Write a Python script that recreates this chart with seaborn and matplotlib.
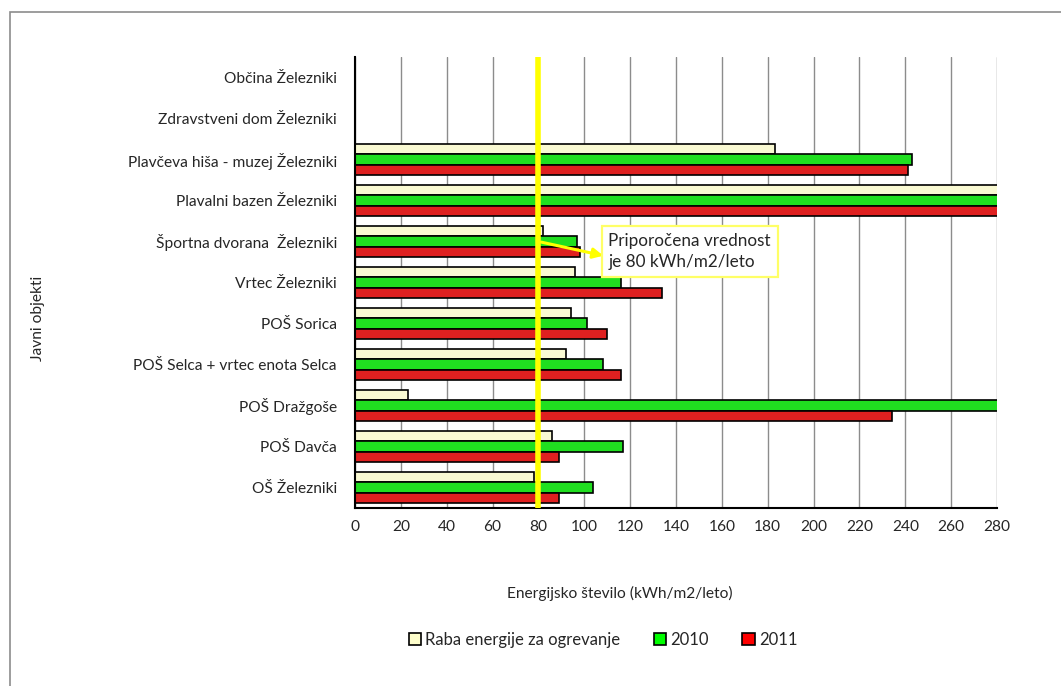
import matplotlib
matplotlib.use("Agg")
import matplotlib.pyplot as plt
import matplotlib.patches as mpatches
import numpy as np
import pandas as pd
import seaborn as sns

# ---- data ----
objekti = [
    "Občina Železniki",
    "Zdravstveni dom Železniki",
    "Plavčeva hiša - muzej Železniki",
    "Plavalni bazen Železniki",
    "Športna dvorana  Železniki",
    "Vrtec Železniki",
    "POŠ Sorica",
    "POŠ Selca + vrtec enota Selca",
    "POŠ Dražgoše",
    "POŠ Davča",
    "OŠ Železniki",
]
serije = ["Raba energije za ogrevanje", "2010", "2011"]
raba = [np.nan, np.nan, 183, 320, 82, 96, 94, 92, 23, 86, 78]
v2010 = [np.nan, np.nan, 243, 320, 97, 116, 101, 108, 320, 117, 104]
v2011 = [np.nan, np.nan, 241, 320, 98, 134, 110, 116, 234, 89, 89]
barve = ["#FFFFCC", "#00FF00", "#FF0000"]
priporocena = 80
xticks = list(range(0, 281, 20))

df = pd.DataFrame({
    "objekt": objekti * 3,
    "serija": sum([[s] * len(objekti) for s in serije], []),
    "vrednost": raba + v2010 + v2011,
})

sns.set_style("white")
plt.rcParams["font.family"] = ["Lato", "DejaVu Sans"]
FS = 11.2

fig = plt.figure(figsize=(10.61, 6.86), dpi=100)
ax = fig.add_axes([0.3346, 0.2595, 0.9397 - 0.3346, 0.9169 - 0.2595])

sns.barplot(data=df, y="objekt", x="vrednost", hue="serija", order=objekti,
            hue_order=serije, palette=barve, orient="h", width=0.74,
            edgecolor="black", linewidth=1.2, ax=ax, legend=False, errorbar=None,
            zorder=3)

ax.set_xlim(0, 280)
ax.set_ylim(len(objekti) - 0.5, -0.5)
ax.set_xticks(xticks)
ax.set_xticklabels([str(t) for t in xticks], fontsize=FS)
ax.tick_params(axis="x", direction="out", length=5, width=1.2, color="black", pad=4)
ax.tick_params(axis="y", which="major", length=0, pad=13, labelsize=FS)
ax.set_yticks(np.arange(-0.5, len(objekti), 1.0), minor=True)
ax.tick_params(axis="y", which="minor", direction="out", length=7, width=1.2, color="black")
ax.grid(axis="x", color="#8c8c8c", linewidth=1, zorder=0)
ax.set_axisbelow(True)
for s in ["top", "right"]:
    ax.spines[s].set_visible(False)
for s in ["left", "bottom"]:
    ax.spines[s].set_color("black")
    ax.spines[s].set_linewidth(1.5)
    ax.spines[s].set_zorder(5)
ax.set_xlabel("")
ax.set_ylabel("")

# recommended value line
ax.axvline(priporocena, color="#FFFF00", linewidth=4, zorder=6)
ax.annotate("", xy=(109.5, 4.36), xytext=(priporocena, 4.0),
            arrowprops=dict(arrowstyle="-|>", color="#FFFF00", lw=2.2,
                            mutation_scale=15), zorder=7)
ax.text(110.5, 4.24, "Priporočena vrednost\nje 80 kWh/m2/leto", fontsize=12.3,
        ha="left", va="center", linespacing=1.4, zorder=8,
        bbox=dict(boxstyle="square,pad=0.4", fc="white", ec="#FFFF66", lw=1.6))

# axis titles
fig.text(620 / 1061, 1 - 593 / 686, "Energijsko število (kWh/m2/leto)",
         ha="center", va="center", fontsize=FS)
fig.text(38 / 1061, 1 - 318 / 686, "Javni objekti", rotation=90,
         ha="center", va="center", fontsize=FS)

# legend
handles = [mpatches.Patch(facecolor=c, edgecolor="black", linewidth=1.2, label=s)
           for c, s in zip(barve, serije)]
fig.legend(handles=handles, loc="center", bbox_to_anchor=(603 / 1061, 1 - 640 / 686),
           ncol=3, frameon=False, fontsize=FS + 0.8, handlelength=0.75, handleheight=0.75,
           handletextpad=0.25, columnspacing=2.0)

# outer frame
fig.patches.append(mpatches.Rectangle((9.5 / 1061, -0.1), 1.2, 1 - 12 / 686 + 0.1,
                                      transform=fig.transFigure, fill=False,
                                      edgecolor="#8c8c8c", linewidth=1.2))

fig.savefig("out.png", dpi=100)
